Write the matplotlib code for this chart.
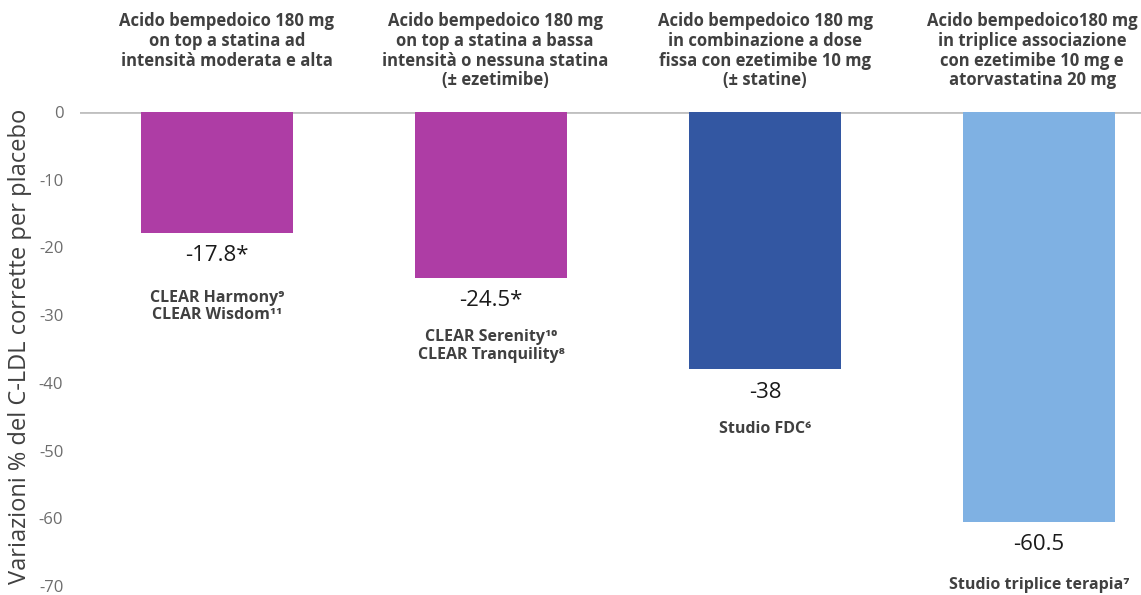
import matplotlib.pyplot as plt

plt.rcParams['font.family'] = ['Open Sans', 'DejaVu Sans']
plt.rcParams['axes.unicode_minus'] = False

headers = [
    "Acido bempedoico 180 mg\non top a statina ad\nintensità moderata e alta",
    "Acido bempedoico 180 mg\non top a statina a bassa\nintensità o nessuna statina\n(± ezetimibe)",
    "Acido bempedoico 180 mg\nin combinazione a dose\nfissa con ezetimibe 10 mg\n(± statine)",
    "Acido bempedoico180 mg\nin triplice associazione\ncon ezetimibe 10 mg e\natorvastatina 20 mg",
]
values = [-17.8, -24.5, -38, -60.5]
value_labels = ["-17.8*", "-24.5*", "-38", "-60.5"]
studies = [
    "CLEAR Harmony⁹\nCLEAR Wisdom¹¹",
    "CLEAR Serenity¹⁰\nCLEAR Tranquility⁸",
    "Studio FDC⁶",
    "Studio triplice terapia⁷",
]
colors = ["#AE3DA5", "#AE3DA5", "#3357A2", "#7FB1E3"]

# label offsets in points, tuned per column
study_dy = [-41, -37, -37, -40]
header_dx = [7, 3, 0, -5]

fig = plt.figure(figsize=(11.41, 5.95), dpi=100)
ax = fig.add_axes([0.0701, 0.0151, 0.93, 0.7966])

x = list(range(len(values)))
ax.bar(x, values, width=0.555, color=colors, zorder=2)
ax.axhline(0, color="#C0C0C0", lw=2, zorder=1)

ax.set_xlim(-0.5, 3.372)
ax.set_ylim(-70, 0)
ax.set_yticks(range(-70, 1, 10))
ax.set_xticks([])
ax.tick_params(axis="y", length=0, labelsize=12, labelcolor="#6d6d6d", pad=12)
for s in ax.spines.values():
    s.set_visible(False)

ax.set_ylabel("Variazioni % del C-LDL corrette per placebo", fontsize=17,
              color="#404040")
ax.yaxis.set_label_coords(-0.0565, 0.505)
ax.yaxis.label.set_va("center")

for i, v in enumerate(values):
    ax.annotate(value_labels[i], (i, v), xytext=(0, -9), textcoords="offset points",
                ha="center", va="top", fontsize=16, color="#1a1a1a")
    ax.annotate(studies[i], (i, v), xytext=(0, study_dy[i]), textcoords="offset points",
                ha="center", va="top", fontsize=11.5, fontweight="bold",
                color="#404040", linespacing=1.15)
    ax.annotate(headers[i], (i, 0), xytext=(header_dx[i], 72), textcoords="offset points",
                ha="center", va="top", fontsize=12, fontweight="bold",
                color="#404040", linespacing=1.13, annotation_clip=False)

fig.savefig("out.png", dpi=100)
